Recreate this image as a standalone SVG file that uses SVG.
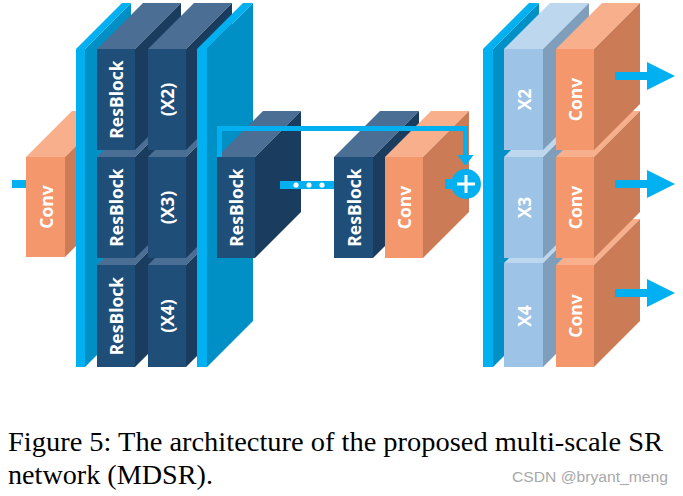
<svg xmlns="http://www.w3.org/2000/svg" width="683" height="496" viewBox="0 0 683 496">
<style>
.nf{fill:#1F4E79}.nt{fill:#4B6F94}.ns{fill:#1A3C5F}
.of{fill:#F4976C}.ot{fill:#F8B08C}.os{fill:#CB7C56}
.lf{fill:#9DC3E6}.lt{fill:#BDD7EE}.ls{fill:#7F9EBC}
.pf{fill:#00B0F0}.ps{fill:#0090C6}
.lbl{font-family:"Open Sans","DejaVu Sans",sans-serif;font-weight:700;font-size:17.5px;fill:#FFFFFF;text-anchor:middle;dominant-baseline:central}
.cap{font-family:"Liberation Serif","Times New Roman",serif;font-size:27px;fill:#000000}
.wm{font-family:"Liberation Sans",Arial,sans-serif;font-size:15.5px;fill:#A8A8A8}
.ln{fill:none;stroke:#00B0F0;stroke-width:5}
</style>
<g id="input"><rect class="pf" x="12" y="180" width="15" height="8"/></g>
<g id="conv-in">
<rect class="of" x="26" y="157" width="39" height="100"/>
<polygon class="ot" points="26,157 65,157 111,111 72,111"/>
<polygon class="os" points="65,157 111,111 111,211 65,257"/>
<text class="lbl" transform="translate(45.5,207) rotate(-90)">Conv</text>
</g>
<g id="plate1">
<polygon class="ps" points="85,49 131,3 131,321 85,367"/>
<polygon class="pf" points="76,49 85,49 131,3 122,3"/>
<rect class="pf" x="76" y="49" width="9" height="318"/>
</g>
<g id="resblock-x4">
<rect class="nf" x="97" y="265" width="38" height="102"/>
<polygon class="nt" points="97,265 135,265 181,219 143,219"/>
<polygon class="ns" points="135,265 181,219 181,321 135,367"/>
<text class="lbl" transform="translate(116,316) rotate(-90)">ResBlock</text>
</g>
<g id="resblock-x3">
<rect class="nf" x="97" y="157" width="38" height="101"/>
<polygon class="nt" points="97,157 135,157 181,111 143,111"/>
<polygon class="ns" points="135,157 181,111 181,212 135,258"/>
<text class="lbl" transform="translate(116,207.5) rotate(-90)">ResBlock</text>
</g>
<g id="resblock-x2">
<rect class="nf" x="97" y="49" width="38" height="101"/>
<polygon class="nt" points="97,49 135,49 181,3 143,3"/>
<polygon class="ns" points="135,49 181,3 181,104 135,150"/>
<text class="lbl" transform="translate(116,99.5) rotate(-90)">ResBlock</text>
</g>
<g id="scale-x4">
<rect class="nf" x="148" y="265" width="38" height="102"/>
<polygon class="nt" points="148,265 186,265 232,219 194,219"/>
<polygon class="ns" points="186,265 232,219 232,321 186,367"/>
<text class="lbl" transform="translate(167,316) rotate(-90)">(X4)</text>
</g>
<g id="scale-x3">
<rect class="nf" x="148" y="157" width="38" height="101"/>
<polygon class="nt" points="148,157 186,157 232,111 194,111"/>
<polygon class="ns" points="186,157 232,111 232,212 186,258"/>
<text class="lbl" transform="translate(167,207.5) rotate(-90)">(X3)</text>
</g>
<g id="scale-x2">
<rect class="nf" x="148" y="49" width="38" height="101"/>
<polygon class="nt" points="148,49 186,49 232,3 194,3"/>
<polygon class="ns" points="186,49 232,3 232,104 186,150"/>
<text class="lbl" transform="translate(167,99.5) rotate(-90)">(X2)</text>
</g>
<g id="plate2">
<polygon class="ps" points="207,49 253,3 253,321 207,367"/>
<polygon class="pf" points="197,49 207,49 253,3 243,3"/>
<rect class="pf" x="197" y="49" width="10" height="318"/>
</g>
<g id="resblock-a">
<rect class="nf" x="217" y="157" width="38" height="101"/>
<polygon class="nt" points="217,157 255,157 301,111 263,111"/>
<polygon class="ns" points="255,157 301,111 301,212 255,258"/>
<text class="lbl" transform="translate(236,207.5) rotate(-90)">ResBlock</text>
</g>
<g id="connectors">
<rect class="pf" x="280" y="181" width="55" height="8"/>
<circle cx="296" cy="185" r="2.6" fill="#FFFFFF"/>
<circle cx="309" cy="185" r="2.6" fill="#FFFFFF"/>
<circle cx="322" cy="185" r="2.6" fill="#FFFFFF"/>
</g>
<g id="resblock-b">
<rect class="nf" x="334" y="157" width="39" height="101"/>
<polygon class="nt" points="334,157 373,157 419,111 380,111"/>
<polygon class="ns" points="373,157 419,111 419,212 373,258"/>
<text class="lbl" transform="translate(353.5,207.5) rotate(-90)">ResBlock</text>
</g>
<g id="conv-mid">
<rect class="of" x="385" y="157" width="38" height="101"/>
<polygon class="ot" points="385,157 423,157 469,111 431,111"/>
<polygon class="os" points="423,157 469,111 469,212 423,258"/>
<text class="lbl" transform="translate(404,207.5) rotate(-90)">Conv</text>
</g>
<g id="skip">
<path class="ln" d="M219.5,157 V128.5 H465.5 V157"/>
<polygon class="pf" points="457.5,155 473.5,155 465.5,166"/>
<rect class="pf" x="445" y="179" width="6" height="10"/>
<circle cx="466" cy="184" r="15" fill="#00B0F0"/>
<path d="M466,175 V193 M457,184 H475" stroke="#FFFFFF" stroke-width="3" fill="none"/>
</g>
<g id="plate3">
<polygon class="ps" points="493,49 539,3 539,321 493,367"/>
<polygon class="pf" points="483,49 493,49 539,3 529,3"/>
<rect class="pf" x="483" y="49" width="10" height="318"/>
</g>
<g id="up-x4">
<rect class="lf" x="504" y="263" width="39" height="104"/>
<polygon class="lt" points="504,263 543,263 589,217 550,217"/>
<polygon class="ls" points="543,263 589,217 589,321 543,367"/>
<text class="lbl" transform="translate(523.5,316) rotate(-90)">X4</text>
</g>
<g id="up-x3">
<rect class="lf" x="504" y="157" width="39" height="101"/>
<polygon class="lt" points="504,157 543,157 589,111 550,111"/>
<polygon class="ls" points="543,157 589,111 589,212 543,258"/>
<text class="lbl" transform="translate(523.5,207.5) rotate(-90)">X3</text>
</g>
<g id="up-x2">
<rect class="lf" x="504" y="49" width="39" height="101"/>
<polygon class="lt" points="504,49 543,49 589,3 550,3"/>
<polygon class="ls" points="543,49 589,3 589,104 543,150"/>
<text class="lbl" transform="translate(523.5,99.5) rotate(-90)">X2</text>
</g>
<g id="conv-out3">
<rect class="of" x="556" y="265" width="38" height="102"/>
<polygon class="ot" points="556,265 594,265 640,219 602,219"/>
<polygon class="os" points="594,265 640,219 640,321 594,367"/>
<text class="lbl" transform="translate(575,316) rotate(-90)">Conv</text>
</g>
<g id="conv-out2">
<rect class="of" x="556" y="157" width="38" height="101"/>
<polygon class="ot" points="556,157 594,157 640,111 602,111"/>
<polygon class="os" points="594,157 640,111 640,212 594,258"/>
<text class="lbl" transform="translate(575,207.5) rotate(-90)">Conv</text>
</g>
<g id="conv-out1">
<rect class="of" x="556" y="49" width="38" height="101"/>
<polygon class="ot" points="556,49 594,49 640,3 602,3"/>
<polygon class="os" points="594,49 640,3 640,104 594,150"/>
<text class="lbl" transform="translate(575,99.5) rotate(-90)">Conv</text>
</g>
<g id="outputs">
<polygon class="pf" points="615,72 647,72 647,62 675,76 647,90 647,80 615,80"/>
<polygon class="pf" points="615,180 647,180 647,170 675,184 647,198 647,188 615,188"/>
<polygon class="pf" points="615,289 647,289 647,279 675,293 647,307 647,297 615,297"/>
</g>
<g id="caption">
<text class="cap" x="8" y="451" textLength="655" lengthAdjust="spacingAndGlyphs">Figure 5: The architecture of the proposed multi-scale SR</text>
<text class="cap" x="8" y="483.5" textLength="205" lengthAdjust="spacingAndGlyphs">network (MDSR).</text>
<text class="wm" x="512" y="482" textLength="156" lengthAdjust="spacingAndGlyphs">CSDN @bryant_meng</text>
</g>
</svg>
